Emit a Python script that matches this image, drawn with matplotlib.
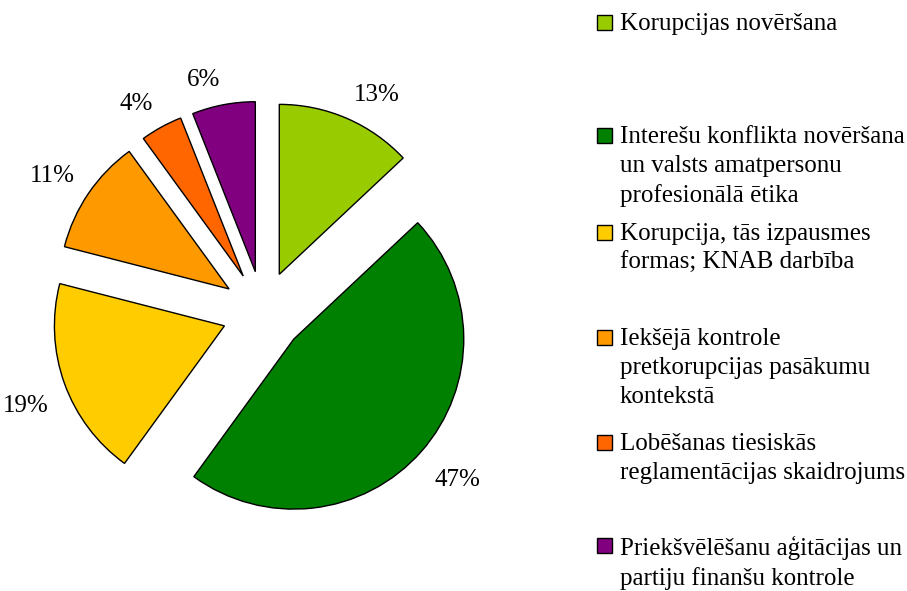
import numpy as np
import matplotlib.pyplot as plt
from matplotlib.patches import Rectangle

# data
shares = [13, 47, 19, 11, 4, 6]
colors = ['#99CC00', '#008000', '#FFCC00', '#FF9900', '#FF6600', '#800080']
legend_labels = [
    "Korupcijas novēršana",
    "Interešu konflikta novēršana\nun valsts amatpersonu\nprofesionālā ētika",
    "Korupcija, tās izpausmes\nformas; KNAB darbība",
    "Iekšējā kontrole\npretkorupcijas pasākumu\nkontekstā",
    "Lobēšanas tiesiskās\nreglamentācijas skaidrojums",
    "Priekšvēlēšanu aģitācijas un\npartiju finanšu kontrole",
]
legend_y = [23, 136, 233, 338, 443, 546]

plt.rcParams['font.family'] = ['Liberation Serif', 'DejaVu Serif']

fig = plt.figure(figsize=(9.07, 5.91), dpi=100)
ax = fig.add_axes([0, 0, 1, 1])

# y axis points down, so counterclock=True draws clockwise on screen
# explode is in data units (pixels here), not a fraction of the radius
wedges, texts = ax.pie(
    shares, colors=colors, explode=[41] * len(shares),
    center=(263, 312), radius=170, startangle=-90, counterclock=True,
    wedgeprops=dict(edgecolor='black', linewidth=1.0), frame=True)
ax.set_xlim(0, 907)
ax.set_ylim(591, 0)
ax.set_aspect('equal')
ax.axis('off')

# percent labels: corner of the text box sits just outside the arc
for w, v in zip(wedges, shares):
    th = np.deg2rad((w.theta1 + w.theta2) / 2)
    cx, cy = w.center
    d = w.r * 1.1
    x = cx + d * np.cos(th)
    y = cy + d * np.sin(th)
    ha = 'left' if np.cos(th) > 0 else 'right'
    if np.sin(th) > 0:
        ax.text(x, y + 6, '%d%%' % v, fontsize=18, ha=ha, va='top')
    else:
        ax.text(x, y - 2, '%d%%' % v, fontsize=18, ha=ha, va='baseline')

for y, lab, c in zip(legend_y, legend_labels, colors):
    ax.add_patch(Rectangle((597, y - 8), 15, 15, facecolor=c,
                           edgecolor='black', linewidth=1.0))
    ax.text(620, y - 10, lab, fontsize=18, va='top', ha='left',
            linespacing=1.4)

fig.savefig('out.png', dpi=100)
